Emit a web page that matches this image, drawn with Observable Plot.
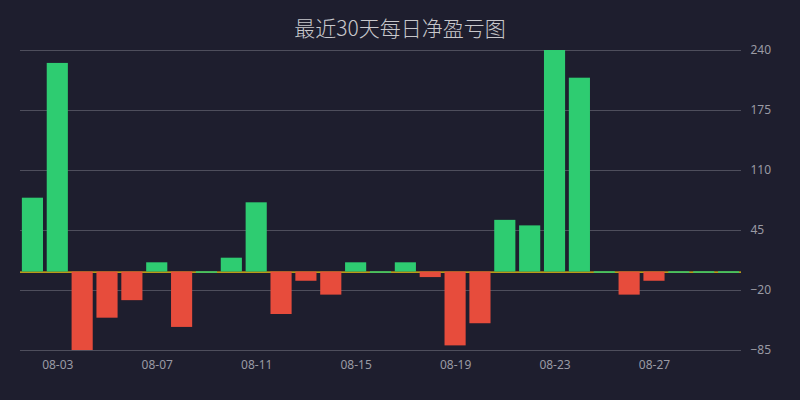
<!DOCTYPE html>
<html>
<head>
<meta charset="utf-8">
<script src="https://cdn.jsdelivr.net/npm/d3@7"></script>
<script src="https://cdn.jsdelivr.net/npm/@observablehq/plot@0.6"></script>
<style>
  html, body { margin: 0; padding: 0; background: #1e1e2e; width: 800px; height: 400px; overflow: hidden; }
  #title { height: 40px; line-height: 54px; text-align: center; color: #c8c8cc; font-family: "Noto Sans CJK SC", "Noto Sans", sans-serif; font-weight: 300; font-size: 21px; }
  svg { display: block; }
</style>
</head>
<body>
<div id="title">最近30天每日净盈亏图</div>
<div id="chart"></div>
<script>
const dates = ["08-02","08-03","08-04","08-05","08-06","08-07","08-08","08-09","08-10","08-11",
               "08-12","08-13","08-14","08-15","08-16","08-17","08-18","08-19","08-20","08-21",
               "08-22","08-23","08-24","08-25","08-26","08-27","08-28","08-29","08-30"];
const values = [80, 226, -85, -50, -31, 10, -60, 0, 15, 75,
                -46, -10, -25, 10, 0, 10, -6, -80, -56, 56,
                50, 240, 210, 0, -25, -10, 0, 0, 0];
const xTicks = ["08-03","08-07","08-11","08-15","08-19","08-23","08-27"];
const yTicks = [-85, -20, 45, 110, 175, 240];
const posColor = "#2ecc71";
const negColor = "#e74c3c";

const data = dates.map((d, i) => ({date: d, value: values[i]}));

const chart = Plot.plot({
  width: 800,
  height: 360,
  marginTop: 10,
  marginBottom: 50,
  marginLeft: 20,
  marginRight: 59,
  style: {background: "transparent", fontFamily: "'Noto Sans', 'Open Sans', sans-serif", fontSize: "12px", color: "#9a9aa4"},
  x: {domain: dates, paddingInner: 0.15, paddingOuter: 0.075, round: false, label: null},
  y: {domain: [-85, 240], label: null},
  marks: [
    Plot.gridY(yTicks, {stroke: "#4e4e5c", strokeOpacity: 1, strokeWidth: 1}),
    Plot.ruleY([0], {stroke: "#f1c40f", strokeWidth: 1.2}),
    Plot.barY(data, {x: "date", y: "value", fill: d => d.value >= 0 ? posColor : negColor}),
    Plot.tickY(data.filter(d => d.value === 0), {x: "date", y: "value", stroke: posColor, strokeWidth: 1.5}),
    Plot.axisY(yTicks, {anchor: "right", tickSize: 0, tickPadding: 9, fill: "#9a9aa4", fontSize: 12}),
    Plot.axisX(xTicks, {anchor: "bottom", tickSize: 0, tickPadding: 10, fill: "#9a9aa4", fontSize: 12})
  ]
});
document.getElementById("chart").appendChild(chart);
</script>
</body>
</html>
